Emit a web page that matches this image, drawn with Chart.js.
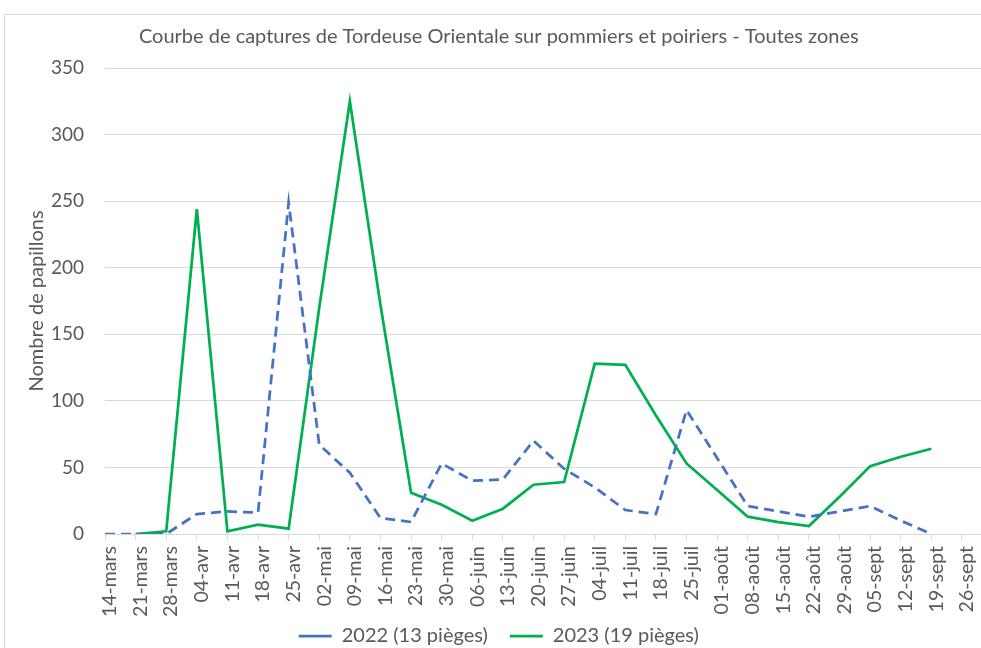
<!DOCTYPE html>
<html>
<head>
<meta charset="utf-8">
<script src="https://cdn.jsdelivr.net/npm/chart.js@4"></script>
<style>
  html, body { margin: 0; padding: 0; background: #fff; width: 981px; height: 648px; overflow: hidden; }
  #box { position: absolute; left: 4px; top: 14px; width: 995px; height: 660px; border: 1px solid #d9d9d9; background: #fff; }
  canvas { display: block; }
</style>
</head>
<body>
<div id="box"><canvas id="c" width="995" height="660"></canvas></div>
<script>
const categories = ['14-mars','21-mars','28-mars','04-avr','11-avr','18-avr','25-avr','02-mai','09-mai','16-mai','23-mai','30-mai','06-juin','13-juin','20-juin','27-juin','04-juil','11-juil','18-juil','25-juil','01-août','08-août','15-août','22-août','29-août','05-sept','12-sept','19-sept','26-sept'];
const captures2022 = [0,0,0,15,17,16,249,67,46,12,9,53,40,41,70,49,35,18,15,93,57,21,17,13,17,21,10,0,null];
const captures2023 = [null,0,2,244,2,7,4,170,325,172,31,22,10,19,37,39,128,127,89,53,33,13,9,6,28,51,58,64,null];
const yTicks = [0,50,100,150,200,250,300,350];
const seriesNames = ['2022 (13 pièges)', '2023 (19 pièges)'];
const chartTitle = 'Courbe de captures de Tordeuse Orientale sur pommiers et poiriers - Toutes zones';
const yTitle = 'Nombre de papillons';

const FONT = 'Lato';
const GREY = '#595959';
const GRID = '#d9d9d9';

// trailing empty slot: the plot area continues past the last week (cropped at the right edge)
const labels = categories.concat(['']);

new Chart(document.getElementById('c'), {
  type: 'line',
  data: {
    labels: labels,
    datasets: [
      {
        label: seriesNames[0],
        data: captures2022,
        borderColor: '#4472C4',
        backgroundColor: '#4472C4',
        borderWidth: 2.75,
        borderDash: [10, 6],
        pointRadius: 0,
        tension: 0,
        fill: false
      },
      {
        label: seriesNames[1],
        data: captures2023,
        borderColor: '#00B050',
        backgroundColor: '#00B050',
        borderWidth: 2.75,
        pointRadius: 0,
        tension: 0,
        fill: false
      }
    ]
  },
  options: {
    responsive: false,
    animation: false,
    devicePixelRatio: 1,
    layout: { padding: { left: 0, right: 7.4, top: 0, bottom: 19 } },
    plugins: {
      title: {
        display: true,
        text: chartTitle,
        color: GREY,
        font: { family: FONT, size: 20, weight: 'normal' },
        padding: { top: 9.7, bottom: 19.3 }
      },
      legend: {
        display: true,
        position: 'bottom',
        labels: {
          color: GREY,
          font: { family: FONT, size: 20 },
          usePointStyle: true,
          pointStyle: 'line',
          pointStyleWidth: 33,
          padding: 22
        }
      },
      tooltip: { enabled: false }
    },
    scales: {
      x: {
        type: 'category',
        offset: false,
        afterFit: (s) => {
          s.height = 70;
          s.paddingRight = 0;
          s._computeLabelArea = () => undefined; // let rotated labels run below the axis box
        },
        grid: {
          display: true,
          drawOnChartArea: false,
          drawTicks: true,
          tickLength: 6,
          color: GRID,
          lineWidth: 1
        },
        border: { display: true, color: GRID, width: 1 },
        ticks: {
          autoSkip: false,
          maxRotation: 90,
          minRotation: 90,
          labelOffset: 5,
          padding: 6,
          color: GREY,
          font: { family: FONT, size: 19.5 }
        }
      },
      y: {
        min: 0,
        max: 350,
        afterFit: (s) => { s.width = 100; },
        afterBuildTicks: (s) => { s.ticks = yTicks.map(v => ({ value: v })); },
        grid: { color: GRID, lineWidth: 1, drawTicks: false },
        border: { display: false },
        ticks: {
          stepSize: 50,
          padding: 21,
          color: GREY,
          font: { family: FONT, size: 19 }
        },
        title: {
          display: true,
          text: yTitle,
          color: GREY,
          font: { family: FONT, size: 20 },
          padding: { top: 20, bottom: 0 }
        }
      }
    }
  }
});
</script>
</body>
</html>
